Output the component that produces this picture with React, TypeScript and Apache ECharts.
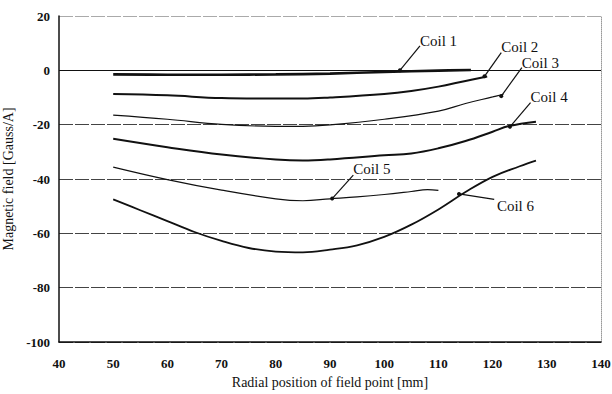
import React, { useEffect, useRef } from "react";
import * as echarts from "echarts";

const xTicks = [40, 50, 60, 70, 80, 90, 100, 110, 120, 130, 140];
const yTicks = [-100, -80, -60, -40, -20, 0, 20];

const coil1: [number, number][] = [[50, -1.5], [60, -1.6], [70, -1.6], [80, -1.5], [90, -1.2], [100, -0.6], [110, -0.1], [116, 0.1]];
const coil2: [number, number][] = [[50, -8.7], [60, -9.2], [70, -10.2], [80, -10.4], [85, -10.4], [90, -10], [100, -8.7], [105, -7.6], [110, -6], [115, -3.9], [119, -2.3]];
const coil3: [number, number][] = [[50, -16.5], [60, -18], [70, -19.9], [80, -20.6], [85, -20.6], [90, -20.1], [100, -18], [110, -15], [115, -12.2], [120, -9.8], [122, -8.8]];
const coil4: [number, number][] = [[50, -25.2], [60, -28.3], [70, -31], [80, -32.8], [85, -33.2], [90, -32.8], [100, -31.3], [105, -30.6], [110, -28.7], [115, -26], [120, -22.6], [123, -20.5], [128, -18.9]];
const coil5: [number, number][] = [[50, -35.6], [60, -40.2], [70, -44.1], [80, -47.3], [85, -48], [90, -47.3], [95, -46.6], [100, -45.7], [105, -44.6], [108, -43.9], [110, -44.2]];
const coil6: [number, number][] = [[50, -47.5], [55, -51.5], [60, -55.5], [65, -59.5], [70, -62.8], [75, -65.4], [80, -66.7], [85, -67], [90, -66], [95, -64.4], [100, -61.3], [105, -56.8], [110, -51.2], [115, -44.8], [120, -39.2], [125, -35.3], [128, -33.2]];

const seriesNames = ["Coil 1", "Coil 2", "Coil 3", "Coil 4", "Coil 5", "Coil 6"];
const seriesData = [coil1, coil2, coil3, coil4, coil5, coil6];
const lineWidths = [2.6, 2, 1.2, 2, 1.2, 1.8];

// label anchor (text start), arrow start, arrow end — data coordinates
const labelPos: [number, number][] = [[106.6, 10.8], [121.6, 8.6], [125.4, 2.8], [127, -9.7], [94.3, -36.5], [120.8, -49.8]];
const arrowFrom: [number, number][] = [[106.6, 9.0], [121.6, 6.5], [125.4, 1.0], [127, -11.9], [94.3, -38.6], [120.3, -47.5]];
const arrowTo: [number, number][] = [[102.9, 0], [118.5, -2.2], [121.6, -9.5], [123.2, -20.8], [90.4, -47.2], [113.8, -45.5]];

const FONT = "Liberation Serif";

export default function App() {
  const ref = useRef<HTMLDivElement>(null);
  useEffect(() => {
    if (!ref.current) return;
    const chart = echarts.init(ref.current, null, { renderer: "svg" });
    chart.setOption({
      animation: false,
      backgroundColor: "#fff",
      grid: { left: 59, right: 11, top: 16, bottom: 52, containLabel: false, outerBoundsMode: "none" },
      xAxis: {
        type: "value",
        min: 40,
        max: 140,
        interval: 10,
        name: "Radial position of field point [mm]",
        nameLocation: "middle",
        nameGap: 33,
        nameTextStyle: { fontFamily: FONT, fontSize: 14, color: "#111" },
        axisLine: { show: true, onZero: false, lineStyle: { color: "#111", width: 1.5 } },
        axisTick: { show: false },
        axisLabel: { fontFamily: FONT, fontSize: 13, fontWeight: "bold", color: "#111", margin: 15 },
        splitLine: { show: false },
      },
      yAxis: [
        {
          type: "value",
          min: -100,
          max: 20,
          interval: 20,
          name: "Magnetic field [Gauss/A]",
          nameLocation: "middle",
          nameGap: 41,
          nameTextStyle: { fontFamily: FONT, fontSize: 14, color: "#111" },
          axisLine: { show: true, lineStyle: { color: "#111", width: 1.5 } },
          axisTick: { show: false },
          axisLabel: { fontFamily: FONT, fontSize: 13, fontWeight: "bold", color: "#111", margin: 9 },
          splitLine: {
            show: true,
            lineStyle: {
              color: ["#333", "#444", "#444", "#444", "#444", "#111", "#aaa"],
              type: [14, 2],
              width: 1,
            },
          },
        },
        {
          type: "value",
          position: "right",
          min: -100,
          max: 20,
          interval: 20,
          axisLine: { show: true, lineStyle: { color: "#999", width: 1, type: "dotted" } },
          axisTick: { show: false },
          axisLabel: { show: false },
          splitLine: { show: false },
        },
      ],
      series: [
        ...seriesNames.map((n, i) => ({
          name: n,
          type: "line",
          data: seriesData[i],
          smooth: 0.4,
          showSymbol: false,
          lineStyle: { color: "#111", width: lineWidths[i] },
          z: 3,
        })),
        {
          type: "line",
          data: [],
          markLine: {
            silent: true,
            symbol: "none",
            label: { show: false },
            lineStyle: { color: "#111", width: 1.2, type: "solid" },
            data: [{ yAxis: 0 }],
          },
        },
      ],
    });

    const graphics: any[] = [];
    seriesNames.forEach((n, i) => {
      const p0 = chart.convertToPixel({ gridIndex: 0 }, arrowFrom[i]) as number[];
      const p1 = chart.convertToPixel({ gridIndex: 0 }, arrowTo[i]) as number[];
      const pt = chart.convertToPixel({ gridIndex: 0 }, labelPos[i]) as number[];
      graphics.push({
        type: "line",
        shape: { x1: p0[0], y1: p0[1], x2: p1[0], y2: p1[1] },
        style: { stroke: "#111", lineWidth: 1.2 },
        z: 10,
      });
      graphics.push({
        type: "circle",
        shape: { cx: p1[0], cy: p1[1], r: 2 },
        style: { fill: "#111" },
        z: 10,
      });
      graphics.push({
        type: "text",
        x: pt[0],
        y: pt[1],
        style: {
          text: n,
          fontFamily: FONT,
          fontSize: 15,
          fill: "#111",
          textAlign: "left",
          textVerticalAlign: "middle",
        },
        z: 10,
      });
    });
    chart.setOption({ graphic: graphics });

    return () => chart.dispose();
  }, []);
  return <div ref={ref} style={{ width: 612, height: 394, position: "absolute", left: 0, top: 0 }} />;
}
